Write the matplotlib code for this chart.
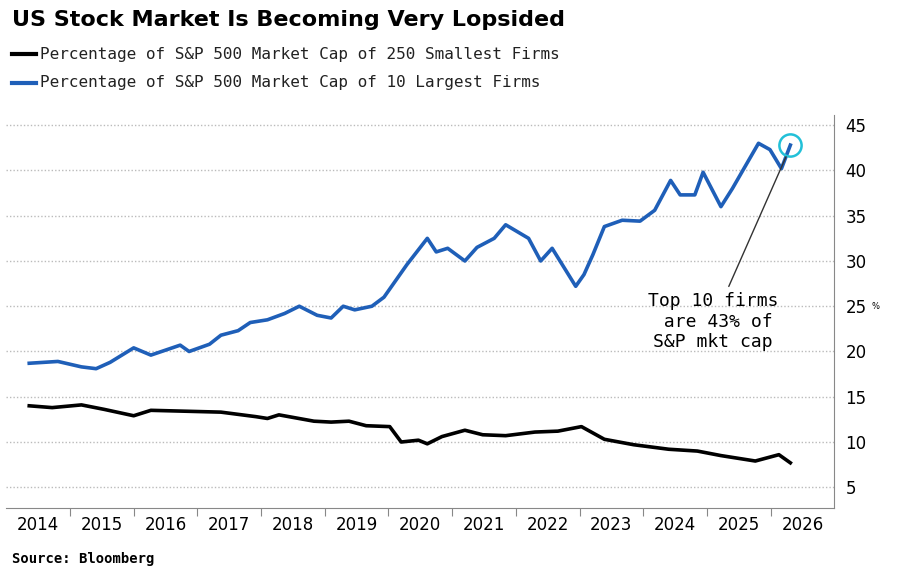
import matplotlib
matplotlib.use("Agg")
import matplotlib.pyplot as plt
from matplotlib.lines import Line2D

# Top 10 firms share (%)
top10_dates = [2014.36, 2014.81, 2015.18, 2015.41, 2015.63, 2016.0, 2016.27, 2016.73, 2016.87,
               2017.19, 2017.37, 2017.64, 2017.83, 2018.1, 2018.37, 2018.6, 2018.88, 2019.1,
               2019.29, 2019.47, 2019.74, 2019.93, 2020.29, 2020.61, 2020.75, 2020.93, 2021.2,
               2021.39, 2021.66, 2021.84, 2022.2, 2022.39, 2022.57, 2022.94, 2023.07, 2023.21,
               2023.39, 2023.67, 2023.95, 2024.18, 2024.43, 2024.58, 2024.81, 2024.94, 2025.22,
               2025.4, 2025.58, 2025.81, 2025.99, 2026.17, 2026.31]
top10 = [18.7, 18.9, 18.3, 18.1, 18.8, 20.4, 19.6, 20.7, 20.0,
         20.8, 21.8, 22.3, 23.2, 23.5, 24.2, 25.0, 24.0, 23.7,
         25.0, 24.6, 25.0, 26.0, 29.6, 32.5, 31.0, 31.4, 30.0,
         31.5, 32.5, 34.0, 32.5, 30.0, 31.4, 27.2, 28.5, 30.7,
         33.8, 34.5, 34.4, 35.6, 38.9, 37.3, 37.3, 39.8, 36.0,
         38.0, 40.2, 43.0, 42.3, 40.2, 42.8]

# Bottom 250 firms share (%)
small_dates = [2014.36, 2014.72, 2015.18, 2015.54, 2016.0, 2016.27, 2016.82, 2017.37, 2017.92,
               2018.1, 2018.28, 2018.83, 2019.1, 2019.38, 2019.65, 2020.02, 2020.2, 2020.47,
               2020.61, 2020.84, 2021.2, 2021.48, 2021.84, 2022.3, 2022.66, 2023.03, 2023.39,
               2023.85, 2024.4, 2024.85, 2025.22, 2025.76, 2026.13, 2026.31]
small250 = [14.0, 13.8, 14.1, 13.6, 12.9, 13.5, 13.4, 13.3, 12.8,
            12.6, 13.0, 12.3, 12.2, 12.3, 11.8, 11.7, 10.0, 10.2,
            9.8, 10.6, 11.3, 10.8, 10.7, 11.1, 11.2, 11.7, 10.3,
            9.7, 9.2, 9.0, 8.5, 7.9, 8.6, 7.7]

years = list(range(2014, 2027))
yticks = [5, 10, 15, 20, 25, 30, 35, 40, 45]

fig = plt.figure(figsize=(9, 5.82), dpi=100)
ax = fig.add_axes([0.007, 0.127, 0.92, 0.675])

ax.plot(small_dates, small250, color="black", lw=2.6)
ax.plot(top10_dates, top10, color="#1f5fb8", lw=2.6)

ax.set_xlim(2014, 2027)
ax.set_ylim(2.7, 46.1)
ax.yaxis.tick_right()
ax.set_yticks(yticks)
ax.set_xticks(years[1:])
ax.set_xticklabels([])
ax.set_xticks([y + 0.5 for y in years], minor=True)
ax.set_xticklabels([str(y) for y in years], minor=True, fontsize=12)
ax.tick_params(axis="x", which="minor", length=0, pad=6)
ax.tick_params(axis="x", which="major", length=6, color="#888888")
ax.tick_params(axis="y", length=0, labelsize=12, pad=8)
for s in ["top", "left"]:
    ax.spines[s].set_visible(False)
ax.spines["right"].set_color("#888888")
ax.spines["bottom"].set_color("#888888")
ax.grid(axis="y", linestyle=(0, (1, 1.5)), color="#bbbbbb", lw=1)

# annotation
ax.plot([top10_dates[-1]], [top10[-1]], "o", ms=16, mfc="none", mec="#22c0d8", mew=1.8)
ax.annotate("Top 10 firms\n are 43% of\nS&P mkt cap", xy=(top10_dates[-1] - 0.05, top10[-1] - 1),
            xytext=(2025.1, 26.6), ha="center", va="top", fontsize=13, family="DejaVu Sans Mono",
            arrowprops=dict(arrowstyle="-", color="#333333", lw=1))
ax.text(1.045, (25 - 2.7) / (46.1 - 2.7), "%", transform=ax.transAxes, fontsize=6, va="center")

fig.text(0.013, 0.965, "US Stock Market Is Becoming Very Lopsided", fontsize=16, weight="bold", va="center")
fig.lines.append(Line2D([0.013, 0.04], [0.907, 0.907], color="black", lw=3, transform=fig.transFigure))
fig.lines.append(Line2D([0.013, 0.04], [0.858, 0.858], color="#1f5fb8", lw=3, transform=fig.transFigure))
fig.text(0.044, 0.907, "Percentage of S&P 500 Market Cap of 250 Smallest Firms", fontsize=11.5,
         family="DejaVu Sans Mono", va="center", color="#222222")
fig.text(0.044, 0.858, "Percentage of S&P 500 Market Cap of 10 Largest Firms", fontsize=11.5,
         family="DejaVu Sans Mono", va="center", color="#222222")
fig.text(0.013, 0.04, "Source: Bloomberg", fontsize=10, weight="bold", family="DejaVu Sans Mono", va="center")

fig.savefig("out.png", dpi=100)
